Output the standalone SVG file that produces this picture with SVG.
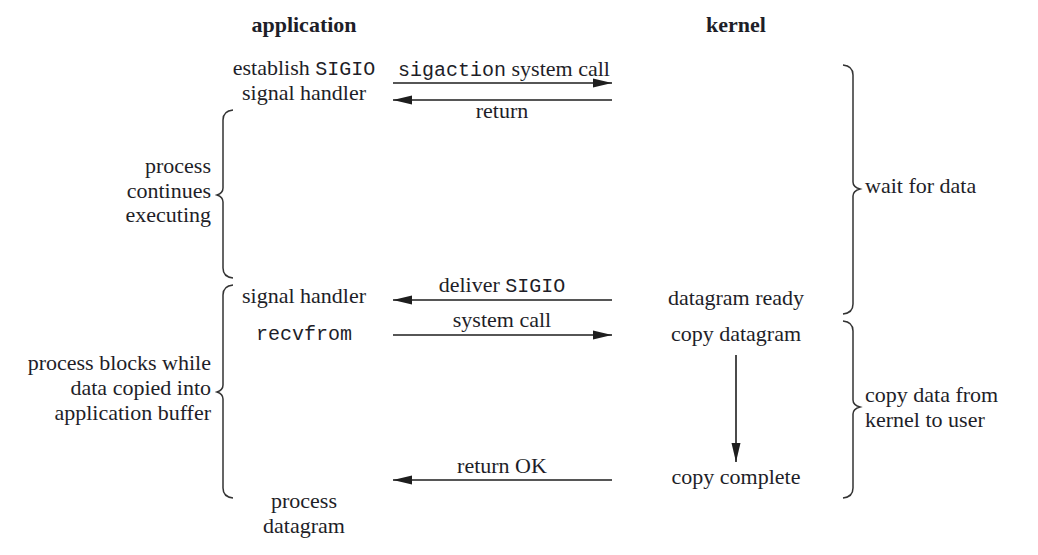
<svg xmlns="http://www.w3.org/2000/svg" width="1038" height="555" viewBox="0 0 1038 555">
<style>
text{font-family:"Liberation Serif","Times New Roman",serif;font-size:22px;fill:#1e1e28}
.b{font-weight:bold}
.m{font-family:"Liberation Mono","Courier New",monospace;font-size:20px}
.c{text-anchor:middle}
.r{text-anchor:end}
.ln{stroke:#1e1e1e;stroke-width:1.6;fill:none}
.br{stroke:#333;stroke-width:1.5;fill:none}
</style>
<defs>
<marker id="ah" markerUnits="userSpaceOnUse" markerWidth="20" markerHeight="10" refX="19" refY="5" orient="auto">
<path d="M0,0.5 L19,5 L0,9.5 Z" fill="#1e1e1e"/>
</marker>
</defs>
<rect width="1038" height="555" fill="#fff"/>
<g id="headers">
<text class="b c" x="304" y="32">application</text>
<text class="b c" x="736" y="32">kernel</text>
</g>
<g id="app-establish">
<text class="c" x="304" y="75">establish <tspan class="m">SIGIO</tspan></text>
<text class="c" x="304" y="100">signal handler</text>
</g>
<g id="app-continues">
<text class="r" x="211" y="173">process</text>
<text class="r" x="211" y="198">continues</text>
<text class="r" x="211" y="222">executing</text>
<path class="br" d="M233,110 Q223,111 223,120 L223,188 Q223,193 217,195 Q223,197 223,202 L223,268 Q223,277 233,278"/>
</g>
<g id="app-signal-handler">
<text class="c" x="304" y="303">signal handler</text>
</g>
<g id="app-recvfrom">
<text class="m c" x="304" y="340">recvfrom</text>
</g>
<g id="app-blocks">
<text class="r" x="211" y="370">process blocks while</text>
<text class="r" x="211" y="395">data copied into</text>
<text class="r" x="211" y="420">application buffer</text>
<path class="br" d="M233,285 Q223,286 223,295 L223,385 Q223,390 217,392 Q223,394 223,399 L223,488 Q223,497 233,498"/>
</g>
<g id="app-process-datagram">
<text class="c" x="304" y="508">process</text>
<text class="c" x="304" y="533">datagram</text>
</g>
<g id="kernel-ready">
<text class="c" x="736" y="305">datagram ready</text>
</g>
<g id="kernel-copy">
<text class="c" x="736" y="341">copy datagram</text>
</g>
<g id="kernel-complete">
<text class="c" x="736" y="484">copy complete</text>
</g>
<g id="wait-for-data">
<path class="br" d="M843,65 Q853,66 853,75 L853,182 Q853,187 860,189 Q853,191 853,196 L853,304 Q853,313 843,314"/>
<text x="865" y="193">wait for data</text>
</g>
<g id="copy-data">
<path class="br" d="M843,321 Q853,322 853,331 L853,400 Q853,405 860,407 Q853,409 853,414 L853,488 Q853,497 843,498"/>
<text x="865" y="402">copy data from</text>
<text x="865" y="427">kernel to user</text>
</g>
<g id="connectors">
<line class="ln" x1="393" y1="83" x2="612" y2="83" marker-end="url(#ah)"/>
<text x="398" y="76"><tspan class="m">sigaction</tspan> system call</text>
<line class="ln" x1="612" y1="100" x2="393" y2="100" marker-end="url(#ah)"/>
<text class="c" x="502" y="118">return</text>
<line class="ln" x1="612" y1="300" x2="393" y2="300" marker-end="url(#ah)"/>
<text class="c" x="502" y="292">deliver <tspan class="m">SIGIO</tspan></text>
<line class="ln" x1="393" y1="335" x2="612" y2="335" marker-end="url(#ah)"/>
<text class="c" x="502" y="327">system call</text>
<line class="ln" x1="736" y1="355" x2="736" y2="462" marker-end="url(#ah)"/>
<line class="ln" x1="612" y1="480" x2="393" y2="480" marker-end="url(#ah)"/>
<text class="c" x="502" y="473">return OK</text>
</g>
</svg>
